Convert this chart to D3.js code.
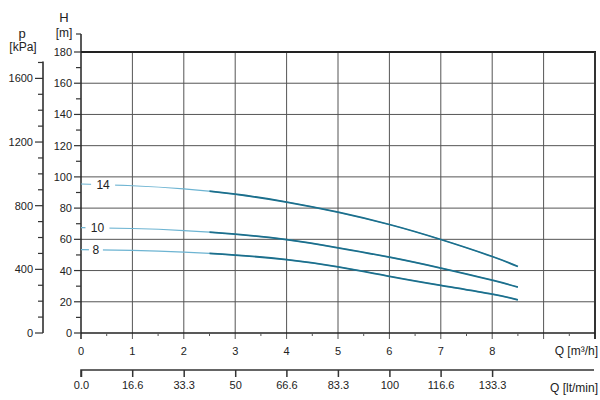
<!DOCTYPE html>
<html>
<head>
<meta charset="utf-8">
<script src="https://cdn.jsdelivr.net/npm/d3@7"></script>
<style>
  body { margin: 0; background: #fff; }
  text { font-family: "Liberation Sans", Arial, sans-serif; fill: #222; }
</style>
</head>
<body>
<div id="chart"></div>
<script>
// DATA
var flow = [0, 1, 2, 3, 4, 5, 6, 7, 8, 8.5];          // Q [m3/h]
var head14 = [95.4, 94.3, 92.3, 88.9, 83.9, 77.4, 69.5, 59.9, 49.0, 42.6];
var head10 = [67.5, 66.9, 65.6, 63.3, 59.8, 54.6, 48.6, 41.6, 33.8, 29.4];
var head8 = [53.4, 52.9, 51.8, 49.9, 47.0, 42.4, 36.3, 30.5, 24.9, 21.2];
var curveNames = ["14", "10", "8"];
var labelAt = [0.43, 0.32, 0.29];
var qTicks = [0, 1, 2, 3, 4, 5, 6, 7, 8];
var hTicks = [0, 20, 40, 60, 80, 100, 120, 140, 160, 180];
var pTicks = [0, 400, 800, 1200, 1600];
var lminTicks = [0, 16.6, 33.3, 50, 66.6, 83.3, 100, 116.6, 133.3];
var lminLabels = ["0.0", "16.6", "33.3", "50", "66.6", "83.3", "100", "116.6", "133.3"];

var w = 600, h = 400;
var plotLeft = 81, plotRight = 595, plotTop = 52, plotBottom = 333;

var svg = d3.select("#chart").append("svg").attr("width", w).attr("height", h);

// SCALES
var x = d3.scaleLinear().domain([0, 10]).range([plotLeft, plotRight]);
var y = d3.scaleLinear().domain([0, 180]).range([plotBottom, plotTop]);
var p = d3.scaleLinear().domain([0, 180 * 9.81]).range([plotBottom, plotTop]); // kPa
var lmin = d3.scaleLinear().domain([0, 10 * 1000 / 60]).range([plotLeft, plotRight]);

// GRID
svg.append("g").selectAll("line")
  .data(hTicks.slice(1, -1))
  .enter().append("line")
  .attr("x1", plotLeft).attr("x2", plotRight)
  .attr("y1", function (d) { return y(d); }).attr("y2", function (d) { return y(d); })
  .attr("stroke", "#555").attr("stroke-width", 1);

svg.append("g").selectAll("line")
  .data(d3.range(1, 10))
  .enter().append("line")
  .attr("x1", function (d) { return x(d); }).attr("x2", function (d) { return x(d); })
  .attr("y1", plotTop).attr("y2", plotBottom + 6)
  .attr("stroke", "#555").attr("stroke-width", 1);

// frame top + right
svg.append("line").attr("x1", plotLeft).attr("x2", plotRight + 1).attr("y1", y(180)).attr("y2", y(180))
  .attr("stroke", "#222").attr("stroke-width", 2);
svg.append("line").attr("x1", x(10)).attr("x2", x(10)).attr("y1", plotTop).attr("y2", plotBottom + 6)
  .attr("stroke", "#333").attr("stroke-width", 2);

// x axis (m3/h)
svg.append("line").attr("x1", plotLeft).attr("x2", plotRight).attr("y1", plotBottom).attr("y2", plotBottom)
  .attr("stroke", "#222").attr("stroke-width", 1.5);
svg.append("g").selectAll("line")
  .data(d3.range(0.5, 10, 1))
  .enter().append("line")
  .attr("x1", function (d) { return x(d); }).attr("x2", function (d) { return x(d); })
  .attr("y1", plotBottom).attr("y2", plotBottom + 3)
  .attr("stroke", "#555");
svg.append("g").selectAll("text")
  .data(qTicks)
  .enter().append("text")
  .attr("x", function (d) { return x(d); })
  .attr("y", plotBottom + 22)
  .attr("text-anchor", "middle")
  .attr("font-size", "11px")
  .text(function (d) { return d; });
svg.append("text").attr("x", 598).attr("y", plotBottom + 22).attr("text-anchor", "end")
  .attr("font-size", "12px").text("Q [m³/h]");

// second x axis (lt/min)
var lminAxis = d3.axisBottom(lmin).tickValues(lminTicks).tickSize(7)
  .tickFormat(function (d, i) { return lminLabels[i]; });
var gl = svg.append("g").attr("transform", "translate(0,370)").call(lminAxis);
gl.select(".domain").attr("stroke", "#333").attr("stroke-width", 1.5)
  .attr("d", "M" + plotLeft + ",7V0H" + (plotRight - 1));
gl.selectAll(".tick line").attr("stroke", "#333").attr("stroke-width", 1.5);
gl.selectAll(".tick text").attr("font-size", "11px").attr("font-family", "Liberation Sans, Arial, sans-serif")
  .attr("fill", "#222").attr("dy", "0.71em").attr("y", 11);
svg.append("text").attr("x", 598).attr("y", 392).attr("text-anchor", "end")
  .attr("font-size", "12px").text("Q [lt/min]");

// H axis
svg.append("line").attr("x1", plotLeft).attr("x2", plotLeft).attr("y1", 34).attr("y2", plotBottom + 6)
  .attr("stroke", "#222").attr("stroke-width", 1.5);
svg.append("g").selectAll("line")
  .data(d3.range(0, 200, 10))
  .enter().append("line")
  .attr("x1", function (d) { return d % 20 === 0 ? plotLeft - 7 : plotLeft - 5; }).attr("x2", plotLeft)
  .attr("y1", function (d) { return d === 190 ? 34 : y(d); })
  .attr("y2", function (d) { return d === 190 ? 34 : y(d); })
  .attr("stroke", "#333").attr("stroke-width", 1.2);
svg.append("g").selectAll("text")
  .data(hTicks)
  .enter().append("text")
  .attr("x", plotLeft - 9)
  .attr("y", function (d) { return y(d) + 4; })
  .attr("text-anchor", "end")
  .attr("font-size", "11px")
  .text(function (d) { return d; });
svg.append("text").attr("x", 64).attr("y", 22).attr("text-anchor", "middle")
  .attr("font-size", "13px").text("H");
svg.append("text").attr("x", 64).attr("y", 37).attr("text-anchor", "middle")
  .attr("font-size", "12px").text("[m]");

// p axis
var pAxisX = 43;
svg.append("line").attr("x1", pAxisX).attr("x2", pAxisX).attr("y1", p(1700) - 1).attr("y2", plotBottom)
  .attr("stroke", "#222").attr("stroke-width", 1.5);
svg.append("g").selectAll("line")
  .data(d3.range(0, 1800, 100))
  .enter().append("line")
  .attr("x1", function (d) { return d % 400 === 0 ? pAxisX - 8 : pAxisX - 5; }).attr("x2", pAxisX)
  .attr("y1", function (d) { return p(d); }).attr("y2", function (d) { return p(d); })
  .attr("stroke", "#333").attr("stroke-width", 1.2);
svg.append("g").selectAll("text")
  .data(pTicks)
  .enter().append("text")
  .attr("x", pAxisX - 10)
  .attr("y", function (d) { return p(d) + 4; })
  .attr("text-anchor", "end")
  .attr("font-size", "11px")
  .text(function (d) { return d; });
svg.append("text").attr("x", 22).attr("y", 38).attr("text-anchor", "middle")
  .attr("font-size", "13px").text("p");
svg.append("text").attr("x", 23).attr("y", 51).attr("text-anchor", "middle")
  .attr("font-size", "12px").text("[kPa]");

// CURVES
var heads = [head14, head10, head8];
var line = d3.line()
  .x(function (d) { return x(d[0]); })
  .y(function (d) { return y(d[1]); })
  .curve(d3.curveNatural);

// clip for the darker (working range) part of each curve
svg.append("clipPath").attr("id", "work")
  .append("rect")
  .attr("x", x(2.5)).attr("y", plotTop)
  .attr("width", plotRight - x(2.5)).attr("height", plotBottom - plotTop);

heads.forEach(function (hv, k) {
  var pts = flow.map(function (q, i) { return [q, hv[i]]; });
  svg.append("path").attr("d", line(pts))
    .attr("fill", "none").attr("stroke", "#6db4d2").attr("stroke-width", 1.1);
  svg.append("path").attr("d", line(pts))
    .attr("clip-path", "url(#work)")
    .attr("fill", "none").attr("stroke", "#1c6f8c").attr("stroke-width", 1.8);

  // label with gap
  var lq = labelAt[k];
  var lh = hv[0] + (hv[1] - hv[0]) * lq;
  svg.append("rect")
    .attr("x", x(lq) - (curveNames[k].length === 2 ? 12 : 7))
    .attr("y", y(lh) - 4)
    .attr("width", curveNames[k].length === 2 ? 24 : 14)
    .attr("height", 8)
    .attr("fill", "#fff");
  svg.append("text")
    .attr("x", x(lq)).attr("y", y(lh) + 4.5)
    .attr("text-anchor", "middle")
    .attr("font-size", "12px")
    .text(curveNames[k]);
});
</script>
</body>
</html>
